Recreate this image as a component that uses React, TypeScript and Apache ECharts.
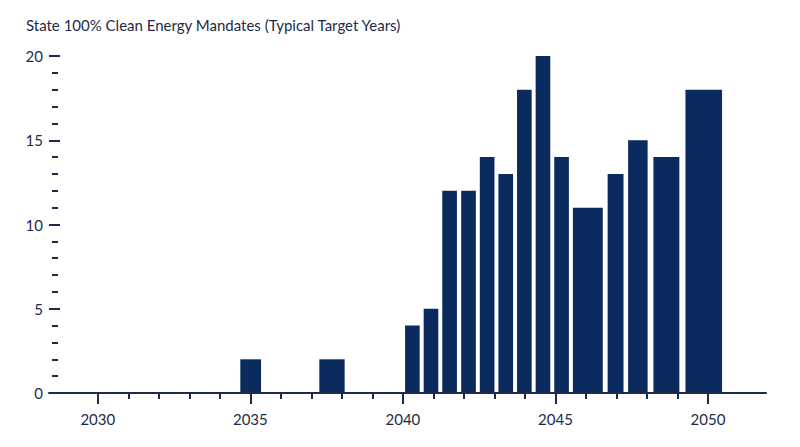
import React, { useEffect, useRef } from 'react';
import * as echarts from 'echarts';

const titleText = 'State 100% Clean Energy Mandates (Typical Target Years)';

// each bar covers [start, end] on the year axis
const barStarts = [2034.67, 2037.26, 2040.07, 2040.68, 2041.29, 2041.91, 2042.52, 2043.13, 2043.74, 2044.35, 2044.96, 2045.57, 2046.71, 2047.38, 2048.21, 2049.26];
const barEnds = [2035.35, 2038.09, 2040.55, 2041.16, 2041.77, 2042.39, 2043.0, 2043.61, 2044.22, 2044.83, 2045.44, 2046.55, 2047.23, 2048.02, 2049.06, 2050.46];
const barCounts = [2, 2, 4, 5, 12, 12, 14, 13, 18, 20, 14, 11, 13, 15, 14, 18];

const majorYears = [2030, 2035, 2040, 2045, 2050];
const minorYears = [2031, 2032, 2033, 2034, 2036, 2037, 2038, 2039, 2041, 2042, 2043, 2044, 2046, 2047, 2048, 2049];

const INK = '#1c2b4a';
const BAR = '#0b2b5e';
const FONT = 'Lato';

const App: React.FC = () => {
  const chartRef = useRef<HTMLDivElement>(null);

  useEffect(() => {
    const chart = echarts.init(chartRef.current!, null, { renderer: 'svg' });

    const data = barStarts.map((s, i) => [s, barEnds[i], barCounts[i]]);

    const xBase = {
      type: 'value',
      min: 2028.4,
      max: 2051.9,
      position: 'bottom',
      splitLine: { show: false },
    };

    const options = {
      animation: false,
      title: {
        text: titleText,
        left: 21,
        top: 12,
        textStyle: { color: INK, fontSize: 15, fontWeight: 'normal', fontFamily: FONT },
      },
      grid: { left: 49, right: 34, top: 56, bottom: 54 },
      xAxis: [
        {
          ...xBase,
          axisLine: { show: true, lineStyle: { color: INK, width: 2 } },
          axisTick: { show: true, customValues: majorYears, length: 11, lineStyle: { color: INK, width: 2 } },
          axisLabel: {
            customValues: majorYears,
            formatter: (v: number) => String(v),
            margin: 18,
            color: INK,
            fontSize: 15,
            fontFamily: FONT,
          },
          z: 5,
        },
        {
          ...xBase,
          axisLine: { show: false },
          axisTick: { show: true, customValues: minorYears, length: 6, lineStyle: { color: INK, width: 2 } },
          axisLabel: { show: false },
          z: 5,
        },
      ],
      yAxis: [
        {
          type: 'value',
          min: 0,
          max: 20,
          interval: 5,
          axisLine: { show: false },
          axisTick: { show: true, inside: true, length: 11, lineStyle: { color: INK, width: 2 } },
          axisLabel: { margin: 6, color: INK, fontSize: 15, fontFamily: FONT },
          splitLine: { show: false },
        },
        {
          type: 'value',
          min: 0,
          max: 20,
          interval: 1,
          position: 'left',
          offset: -3,
          axisLine: { show: false },
          axisTick: { show: true, inside: true, length: 6, lineStyle: { color: INK, width: 2 } },
          axisLabel: { show: false },
          splitLine: { show: false },
        },
      ],
      series: [
        {
          type: 'custom',
          xAxisIndex: 0,
          yAxisIndex: 0,
          encode: { x: [0, 1], y: 2 },
          renderItem: (params: any, api: any) => {
            const p0 = api.coord([api.value(0), api.value(2)]);
            const p1 = api.coord([api.value(1), 0]);
            return {
              type: 'rect',
              shape: { x: p0[0], y: p0[1], width: p1[0] - p0[0], height: p1[1] - p0[1] },
              style: { fill: BAR },
            };
          },
          data: data,
        },
      ],
    };

    chart.setOption(options as any);

    return () => {
      chart.dispose();
    };
  }, []);

  return (
    <div
      ref={chartRef}
      style={{ position: 'fixed', left: 0, top: 0, width: '800px', height: '447px', background: '#fff' }}
    />
  );
};

export default App;
